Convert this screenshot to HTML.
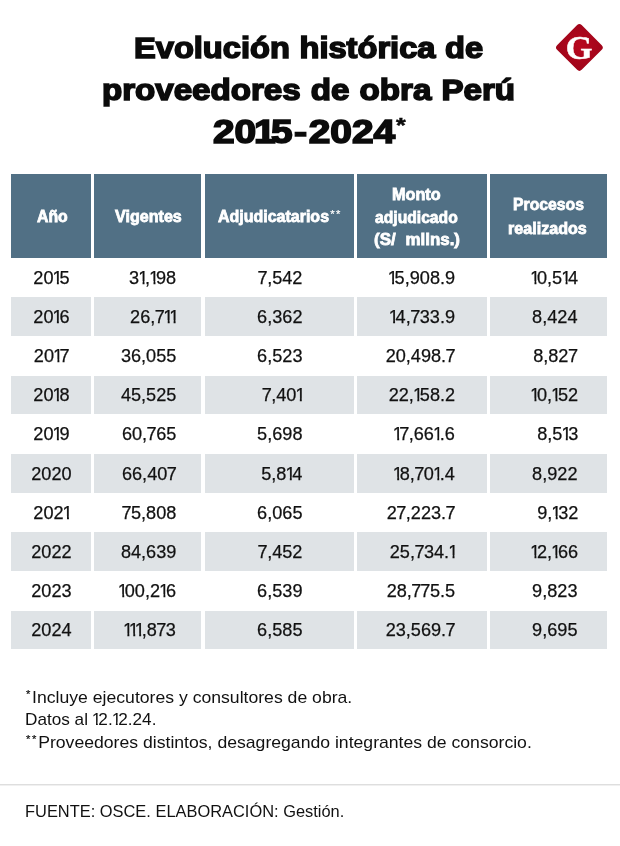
<!DOCTYPE html>
<html lang="es"><head><meta charset="utf-8"><title>Evolución histórica de proveedores de obra Perú</title>
<style>
html,body{margin:0;padding:0;background:#fff}
body{width:620px;height:846px;position:relative;overflow:hidden;font-family:"Liberation Sans",sans-serif;color:#111}
.a{position:absolute;white-space:nowrap;line-height:1;display:block}
.t{font-weight:bold;color:#0b0b0b;transform-origin:0 0;-webkit-text-stroke:1.6px #0b0b0b}
.h{position:absolute;background:#517085}
.ht{font-weight:bold;color:#fff;transform-origin:0 0;font-size:16.6px;-webkit-text-stroke:0.8px #fff}
.s{position:absolute;background:#dfe3e6}
.n{font-size:17.8px;color:#111;-webkit-text-stroke:.25px #111;transform-origin:100% 0;transform:scaleX(1.02)}
.y{transform-origin:50% 0}
.o{display:inline-block;margin-left:-0.056em;margin-right:-0.176em;clip-path:polygon(.07em 0,.37em 0,.37em .63em,.35em .63em,.35em 1.2em,.243em 1.2em,.243em .63em,.07em .63em)}
.v{margin:0 -0.03em}
.f{font-size:16.2px;color:#111;transform-origin:0 0}
.sup{font-size:.64em;position:relative;top:-.46em;letter-spacing:.15em;-webkit-text-stroke:.2px #111}
.hs{font-size:.7em;position:relative;top:-.36em;letter-spacing:.14em;margin-left:.1em;font-weight:normal;-webkit-text-stroke-width:.2px}
</style></head><body>

<div class="a t" id="t0" style="left:134.15px;top:32.84px;font-size:30.2px;transform:scaleX(1.0801)"><span style="word-spacing:.02em">Evolución histórica de</span></div>
<div class="a t" id="t1" style="left:102.01px;top:75.14px;font-size:30.2px;transform:scaleX(1.0962)"><span style="word-spacing:.03em">proveedores de obra Perú</span></div>
<div class="a t" id="t2" style="left:212.51px;top:116.34px;font-size:30.2px;transform:scaleX(1.1806)"><span style="font-size:1.09em">20<span style="margin:0 -.115em 0 -.06em">1</span>5<span style="display:inline-block;transform:scaleX(.56);margin:0 -.07em 0 -.075em">–</span>2024</span><span style="font-size:.7em;position:relative;top:-.52em;margin-left:.04em;-webkit-text-stroke-width:.5px">*</span></div>
<svg style="position:absolute;left:551px;top:19px" width="58" height="58" viewBox="0 0 58 58">
<defs><radialGradient id="lg" cx="50%" cy="45%" r="60%"><stop offset="0" stop-color="#b8081f"/><stop offset="1" stop-color="#a2051a"/></radialGradient></defs>
<rect x="11" y="11" width="34.8" height="34.8" rx="3.2" fill="url(#lg)" transform="rotate(45 28.4 28.4)"/>
<text x="0" y="40.1" text-anchor="middle" font-family="'Liberation Serif',serif" font-weight="bold" font-size="33.4" fill="#fff" stroke="#fff" stroke-width=".5" transform="translate(28.1 0) scale(1.03 1)">G</text>
</svg>
<div class="h" style="left:11.00px;top:174.25px;width:80.00px;height:83.75px"></div>
<div class="h" style="left:94.00px;top:174.25px;width:107.25px;height:83.75px"></div>
<div class="h" style="left:204.50px;top:174.25px;width:149.25px;height:83.75px"></div>
<div class="h" style="left:357.00px;top:174.25px;width:130.00px;height:83.75px"></div>
<div class="h" style="left:490.00px;top:174.25px;width:117.00px;height:83.75px"></div>
<div class="a ht" id="h0" style="left:37.20px;top:209.05px;transform:scaleX(0.9540)">Año</div>
<div class="a ht" id="h1" style="left:114.71px;top:209.05px;transform:scaleX(0.9704)">Vigentes</div>
<div class="a ht" id="h2" style="left:218.15px;top:208.85px;transform:scaleX(0.9633)">Adjudicatarios<span class="hs">**</span></div>
<div class="a ht" id="h3" style="left:391.73px;top:186.95px;transform:scaleX(0.9777)">Monto</div>
<div class="a ht" id="h4" style="left:375.37px;top:209.55px;transform:scaleX(0.9443)">adjudicado</div>
<div class="a ht" id="h5" style="left:373.59px;top:231.85px;transform:scaleX(1.0202)"><span style="word-spacing:5px">(S/ mllns.)</span></div>
<div class="a ht" id="h6" style="left:513.24px;top:196.95px;transform:scaleX(0.9493)">Procesos</div>
<div class="a ht" id="h7" style="left:507.94px;top:220.85px;transform:scaleX(0.9712)">realizados</div>
<div class="s" style="left:11.00px;top:297.35px;width:80.00px;height:38.80px"></div>
<div class="s" style="left:94.00px;top:297.35px;width:107.25px;height:38.80px"></div>
<div class="s" style="left:204.50px;top:297.35px;width:149.25px;height:38.80px"></div>
<div class="s" style="left:357.00px;top:297.35px;width:130.00px;height:38.80px"></div>
<div class="s" style="left:490.00px;top:297.35px;width:117.00px;height:38.80px"></div>
<div class="s" style="left:11.00px;top:375.65px;width:80.00px;height:38.80px"></div>
<div class="s" style="left:94.00px;top:375.65px;width:107.25px;height:38.80px"></div>
<div class="s" style="left:204.50px;top:375.65px;width:149.25px;height:38.80px"></div>
<div class="s" style="left:357.00px;top:375.65px;width:130.00px;height:38.80px"></div>
<div class="s" style="left:490.00px;top:375.65px;width:117.00px;height:38.80px"></div>
<div class="s" style="left:11.00px;top:453.95px;width:80.00px;height:38.80px"></div>
<div class="s" style="left:94.00px;top:453.95px;width:107.25px;height:38.80px"></div>
<div class="s" style="left:204.50px;top:453.95px;width:149.25px;height:38.80px"></div>
<div class="s" style="left:357.00px;top:453.95px;width:130.00px;height:38.80px"></div>
<div class="s" style="left:490.00px;top:453.95px;width:117.00px;height:38.80px"></div>
<div class="s" style="left:11.00px;top:532.25px;width:80.00px;height:38.80px"></div>
<div class="s" style="left:94.00px;top:532.25px;width:107.25px;height:38.80px"></div>
<div class="s" style="left:204.50px;top:532.25px;width:149.25px;height:38.80px"></div>
<div class="s" style="left:357.00px;top:532.25px;width:130.00px;height:38.80px"></div>
<div class="s" style="left:490.00px;top:532.25px;width:117.00px;height:38.80px"></div>
<div class="s" style="left:11.00px;top:610.55px;width:80.00px;height:38.80px"></div>
<div class="s" style="left:94.00px;top:610.55px;width:107.25px;height:38.80px"></div>
<div class="s" style="left:204.50px;top:610.55px;width:149.25px;height:38.80px"></div>
<div class="s" style="left:357.00px;top:610.55px;width:130.00px;height:38.80px"></div>
<div class="s" style="left:490.00px;top:610.55px;width:117.00px;height:38.80px"></div>
<div class="a n y" style="left:11.00px;width:80.80px;text-align:center;top:269.88px">20<span class="o">1</span>5</div>
<div class="a n" style="right:444.00px;top:269.88px">3<span class="o">1</span>,<span class="o">1</span>98</div>
<div class="a n" style="right:318.00px;top:269.88px"><span class="v">7</span>,542</div>
<div class="a n" style="right:165.20px;top:269.88px"><span class="o">1</span>5,908.9</div>
<div class="a n" style="right:42.10px;top:269.88px"><span class="o">1</span>0,5<span class="o">1</span>4</div>
<div class="a n y" style="left:11.00px;width:80.80px;text-align:center;top:309.02px">20<span class="o">1</span>6</div>
<div class="a n" style="right:444.00px;top:309.02px">26,<span class="v">7</span><span class="o">1</span><span class="o">1</span></div>
<div class="a n" style="right:318.00px;top:309.02px">6,362</div>
<div class="a n" style="right:165.20px;top:309.02px"><span class="o">1</span>4,<span class="v">7</span>33.9</div>
<div class="a n" style="right:42.10px;top:309.02px">8,424</div>
<div class="a n y" style="left:11.00px;width:80.80px;text-align:center;top:348.18px">20<span class="o">1</span><span class="v">7</span></div>
<div class="a n" style="right:444.00px;top:348.18px">36,055</div>
<div class="a n" style="right:318.00px;top:348.18px">6,523</div>
<div class="a n" style="right:165.20px;top:348.18px">20,498.<span class="v">7</span></div>
<div class="a n" style="right:42.10px;top:348.18px">8,82<span class="v">7</span></div>
<div class="a n y" style="left:11.00px;width:80.80px;text-align:center;top:387.32px">20<span class="o">1</span>8</div>
<div class="a n" style="right:444.00px;top:387.32px">45,525</div>
<div class="a n" style="right:318.00px;top:387.32px"><span class="v">7</span>,40<span class="o">1</span></div>
<div class="a n" style="right:165.20px;top:387.32px">22,<span class="o">1</span>58.2</div>
<div class="a n" style="right:42.10px;top:387.32px"><span class="o">1</span>0,<span class="o">1</span>52</div>
<div class="a n y" style="left:11.00px;width:80.80px;text-align:center;top:426.47px">20<span class="o">1</span>9</div>
<div class="a n" style="right:444.00px;top:426.47px">60,<span class="v">7</span>65</div>
<div class="a n" style="right:318.00px;top:426.47px">5,698</div>
<div class="a n" style="right:165.20px;top:426.47px"><span class="o">1</span><span class="v">7</span>,66<span class="o">1</span>.6</div>
<div class="a n" style="right:42.10px;top:426.47px">8,5<span class="o">1</span>3</div>
<div class="a n y" style="left:11.00px;width:80.80px;text-align:center;top:465.62px">2020</div>
<div class="a n" style="right:444.00px;top:465.62px">66,40<span class="v">7</span></div>
<div class="a n" style="right:318.00px;top:465.62px">5,8<span class="o">1</span>4</div>
<div class="a n" style="right:165.20px;top:465.62px"><span class="o">1</span>8,<span class="v">7</span>0<span class="o">1</span>.4</div>
<div class="a n" style="right:42.10px;top:465.62px">8,922</div>
<div class="a n y" style="left:11.00px;width:80.80px;text-align:center;top:504.77px">202<span class="o">1</span></div>
<div class="a n" style="right:444.00px;top:504.77px"><span class="v">7</span>5,808</div>
<div class="a n" style="right:318.00px;top:504.77px">6,065</div>
<div class="a n" style="right:165.20px;top:504.77px">2<span class="v">7</span>,223.<span class="v">7</span></div>
<div class="a n" style="right:42.10px;top:504.77px">9,<span class="o">1</span>32</div>
<div class="a n y" style="left:11.00px;width:80.80px;text-align:center;top:543.93px">2022</div>
<div class="a n" style="right:444.00px;top:543.93px">84,639</div>
<div class="a n" style="right:318.00px;top:543.93px"><span class="v">7</span>,452</div>
<div class="a n" style="right:165.20px;top:543.93px">25,<span class="v">7</span>34.<span class="o">1</span></div>
<div class="a n" style="right:42.10px;top:543.93px"><span class="o">1</span>2,<span class="o">1</span>66</div>
<div class="a n y" style="left:11.00px;width:80.80px;text-align:center;top:583.08px">2023</div>
<div class="a n" style="right:444.00px;top:583.08px"><span class="o">1</span>00,2<span class="o">1</span>6</div>
<div class="a n" style="right:318.00px;top:583.08px">6,539</div>
<div class="a n" style="right:165.20px;top:583.08px">28,<span class="v">7</span><span class="v">7</span>5.5</div>
<div class="a n" style="right:42.10px;top:583.08px">9,823</div>
<div class="a n y" style="left:11.00px;width:80.80px;text-align:center;top:622.23px">2024</div>
<div class="a n" style="right:444.00px;top:622.23px"><span class="o">1</span><span class="o">1</span><span class="o">1</span>,8<span class="v">7</span>3</div>
<div class="a n" style="right:318.00px;top:622.23px">6,585</div>
<div class="a n" style="right:165.20px;top:622.23px">23,569.<span class="v">7</span></div>
<div class="a n" style="right:42.10px;top:622.23px">9,695</div>
<div class="a f" id="f0" style="left:26.17px;top:689.19px;transform:scaleX(1.0881)"><span class="sup">*</span>Incluye ejecutores y consultores de obra.</div>
<div class="a f" id="f1" style="left:25.08px;top:711.49px;transform:scaleX(1.0605)">Datos al <span class="o">1</span>2.<span class="o">1</span>2.24.</div>
<div class="a f" id="f2" style="left:26.17px;top:733.69px;transform:scaleX(1.0884)"><span class="sup">**</span>Proveedores distintos, desagregando integrantes de consorcio.</div>
<div class="a f" id="f3" style="left:24.78px;top:802.89px;transform:scaleX(1.0141)">FUENTE: OSCE. ELABORACIÓN: Gestión.</div>
<div style="position:absolute;left:0;top:784px;width:620px;height:2px;background:linear-gradient(#dedede 0,#dedede 50%,#f0f0f0 50%,#f0f0f0 100%)"></div>
</body></html>
